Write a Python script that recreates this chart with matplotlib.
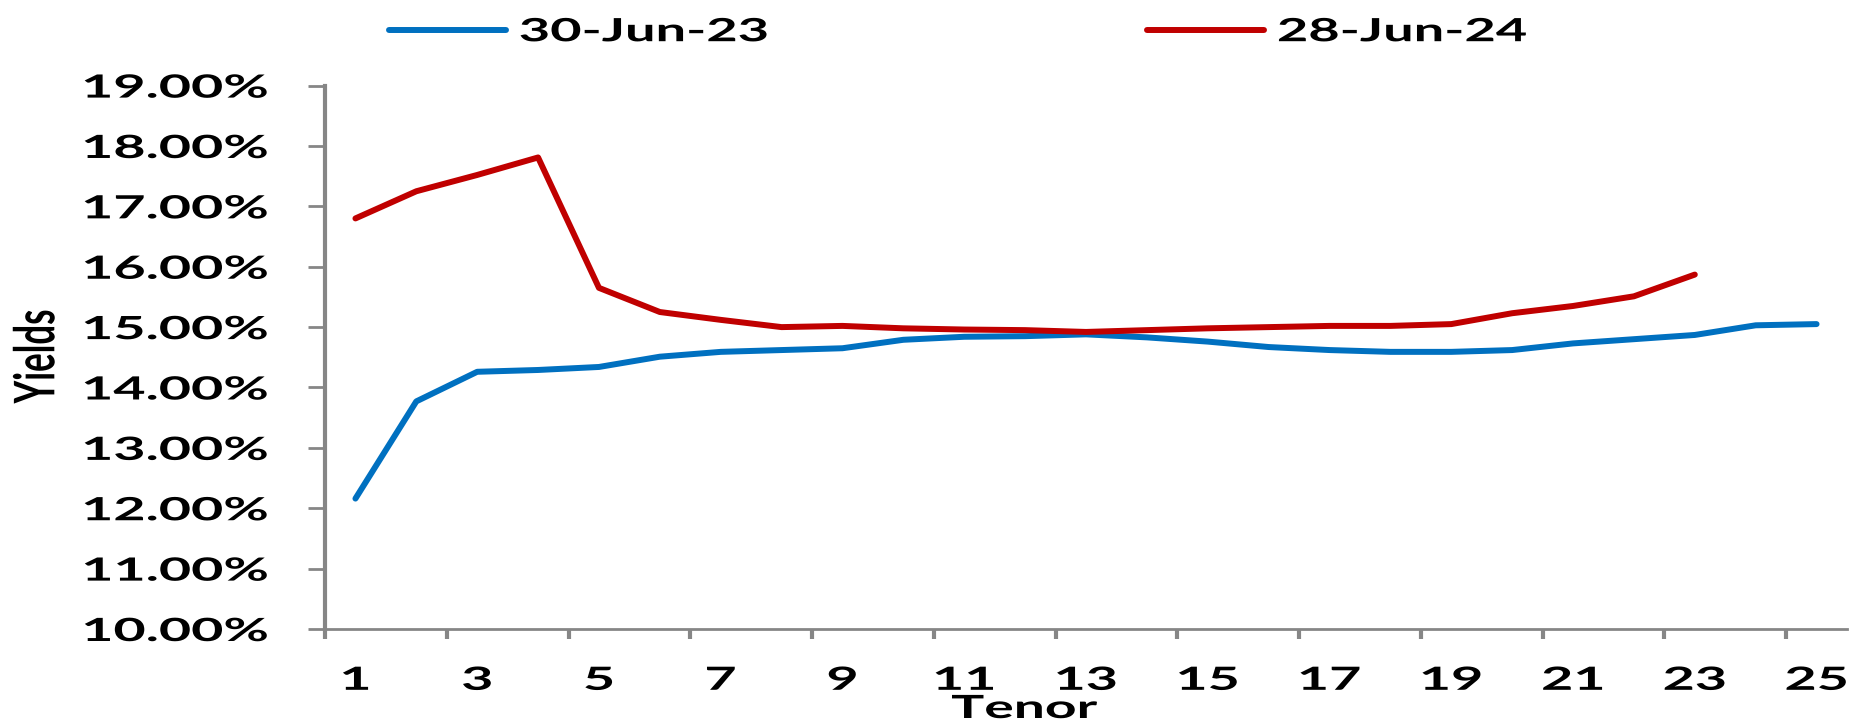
import matplotlib
matplotlib.use("Agg")
import numpy as np
import matplotlib.pyplot as plt
import matplotlib.patheffects as pe
from matplotlib.transforms import Affine2D
from matplotlib.textpath import TextPath
from matplotlib.font_manager import FontProperties
from matplotlib.ticker import FixedLocator, FixedFormatter, NullFormatter

# Yield curve data (%), one point per tenor
tenor = list(range(1, 26))
yield_2023 = [12.16, 13.77, 14.26, 14.29, 14.34, 14.51, 14.59, 14.62, 14.65, 14.79,
              14.84, 14.85, 14.88, 14.83, 14.76, 14.67, 14.62, 14.59, 14.59, 14.62,
              14.73, 14.80, 14.87, 15.03, 15.05]
yield_2024 = [16.80, 17.25, 17.52, 17.81, 15.65, 15.25, 15.12, 15.00, 15.02, 14.98,
              14.96, 14.95, 14.92, 14.95, 14.98, 15.00, 15.02, 15.02, 15.05, 15.23,
              15.35, 15.51, 15.87]
series_names = ["30-Jun-23", "28-Jun-24"]
y_ticks = list(range(10, 20))
x_labels = [str(t) for t in range(1, 26, 2)]

DPI = 100
W, H = 1852, 726
FONT = "Lato"
FS = 23
LW = 4.3
BLUE = "#0070C0"
RED = "#C00000"
GREY = "#868686"

plt.rcParams["font.family"] = FONT
plt.rcParams["font.weight"] = "bold"
plt.rcParams["axes.labelweight"] = "bold"


class Stretch(pe.AbstractPathEffect):
    """Draw a text path widened in its own frame (the source chart is stretched sideways)."""
    def __init__(self, sx=1.0, sy=1.0, anchor="left"):
        super().__init__()
        self.sx = sx
        self.sy = sy
        self.anchor = anchor

    def draw_path(self, renderer, gc, tpath, affine, rgbFace=None):
        ext = tpath.get_extents()
        cx = {"left": ext.x0, "right": ext.x1, "center": (ext.x0 + ext.x1) / 2}[self.anchor]
        cy = (ext.y0 + ext.y1) / 2
        st = Affine2D().translate(-cx, -cy).scale(self.sx, self.sy).translate(cx, cy)
        renderer.draw_path(gc, tpath, st + affine, rgbFace)


def ink_size(s, size_pt):
    fp = FontProperties(family=FONT, weight="bold")
    ext = TextPath((0, 0), s, size=size_pt * DPI / 72, prop=fp).get_extents()
    return ext.width, ext.height


sx_tick = 182 / ink_size("19.00%", FS)[0]
sx_leg = 246 / ink_size("30-Jun-23", FS)[0]
sx_tenor = 145 / ink_size("Tenor", FS)[0]
yw, yh = ink_size("Yields", FS)
sx_yield, sy_yield = 93 / yw, 42 / yh

fig = plt.figure(figsize=(W / DPI, H / DPI), dpi=DPI)
ax = fig.add_axes([325 / W, 1 - 629 / H, 1522 / W, 543.4 / H])

l1, = ax.plot(tenor, yield_2023, color=BLUE, lw=LW, solid_capstyle="round",
              solid_joinstyle="round", label=series_names[0])
l2, = ax.plot(tenor[:len(yield_2024)], yield_2024, color=RED, lw=LW, solid_capstyle="round",
              solid_joinstyle="round", label=series_names[1])

ax.set_xlim(0.5, 25.5)
ax.set_ylim(10, 19)

ax.set_yticks(y_ticks)
ax.set_yticklabels([f"{v:.2f}%" for v in y_ticks])
ax.xaxis.set_major_locator(FixedLocator(np.arange(0.5, 25, 2)))
ax.xaxis.set_major_formatter(NullFormatter())
ax.xaxis.set_minor_locator(FixedLocator(list(range(1, 26, 2))))
ax.xaxis.set_minor_formatter(FixedFormatter(x_labels))

ax.tick_params(axis="x", which="minor", length=0, pad=26.5, labelsize=FS)
ax.tick_params(axis="x", which="major", length=7, width=3, color=GREY, direction="out")
ax.tick_params(axis="y", length=12.2, width=2, color=GREY, pad=28.8, labelsize=FS)

for side in ["top", "right"]:
    ax.spines[side].set_visible(False)
ax.spines["left"].set_color(GREY)
ax.spines["left"].set_linewidth(3)
ax.spines["bottom"].set_color(GREY)
ax.spines["bottom"].set_linewidth(2)

for lab in ax.get_yticklabels():
    lab.set_path_effects([Stretch(sx_tick, 1, "right")])
for lab in ax.get_xticklabels(minor=True):
    lab.set_path_effects([Stretch(sx_tick, 1, "center")])

ax.set_xlabel("Tenor", fontsize=FS, fontweight="bold")
ax.xaxis.set_label_coords((1024.5 - 325) / 1522, (629 - 718) / 543.4)
ax.xaxis.label.set_va("baseline")
ax.xaxis.label.set_path_effects([Stretch(sx_tenor, 1, "center")])

ax.set_ylabel("Yields", fontsize=FS, fontweight="bold")
ax.yaxis.set_label_coords((36 - 325) / 1522, (629 - 356.5) / 543.4)
ax.yaxis.label.set_va("center")
ax.yaxis.label.set_path_effects([Stretch(sx_yield, sy_yield, "center")])

# legend across the top
fs_px = FS * DPI / 72
lw_px = LW * DPI / 72
hl = (123 - lw_px) / fs_px
line_start = 386 + lw_px / 2
text_left = 519.5
htp = (text_left - (line_start + hl * fs_px)) / fs_px
w0 = ink_size(series_names[0], FS)[0] + 2
cs = (1143 + lw_px / 2 - (text_left + w0)) / fs_px
leg = fig.legend(handles=[l1, l2], loc="center left", bbox_to_anchor=(line_start / W, 1 - 31.7 / H),
                 ncol=2, frameon=False, fontsize=FS, handlelength=hl, handletextpad=htp,
                 columnspacing=cs, borderpad=0, borderaxespad=0)
for t in leg.get_texts():
    t.set_path_effects([Stretch(sx_leg, 1, "left")])

fig.savefig("out.png", dpi=DPI)
